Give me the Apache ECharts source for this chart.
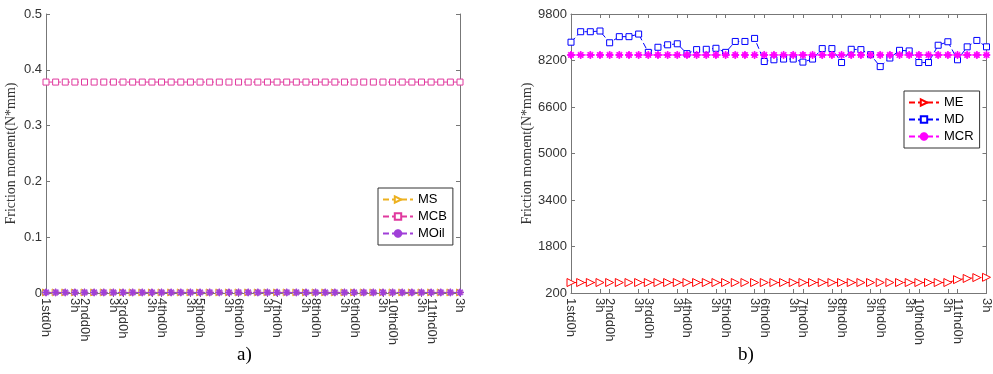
<!DOCTYPE html>
<html>
<head>
<meta charset="utf-8">
<script src="https://cdn.jsdelivr.net/npm/echarts@6/dist/echarts.min.js"></script>
<style>
  html, body { margin: 0; padding: 0; background: #fff; }
  #chart { width: 993px; height: 374px; }
</style>
</head>
<body>
<div id="chart"></div>
<script>
// x categories: 11 days x 4 hours
var days = ['1st', '2nd', '3rd', '4th', '5th', '6th', '7th', '8th', '9th', '10th', '11th'];
var hours = ['0h', '1h', '2h', '3h'];
var categories = [];
days.forEach(function (d) {
  hours.forEach(function (h) { categories.push(d + 'd' + h); });
});

// chart a)
var MS   = [0.001,0.001,0.001,0.001, 0.001,0.001,0.001,0.001, 0.001,0.001,0.001,0.001, 0.001,0.001,0.001,0.001,
            0.001,0.001,0.001,0.001, 0.001,0.001,0.001,0.001, 0.001,0.001,0.001,0.001, 0.001,0.001,0.001,0.001,
            0.001,0.001,0.001,0.001, 0.001,0.001,0.001,0.001, 0.001,0.001,0.001,0.001];
var MCB  = [0.378,0.378,0.378,0.378, 0.378,0.378,0.378,0.378, 0.378,0.378,0.378,0.378, 0.378,0.378,0.378,0.378,
            0.378,0.378,0.378,0.378, 0.378,0.378,0.378,0.378, 0.378,0.378,0.378,0.378, 0.378,0.378,0.378,0.378,
            0.378,0.378,0.378,0.378, 0.378,0.378,0.378,0.378, 0.378,0.378,0.378,0.378];
var MOil = [0.001,0.001,0.001,0.001, 0.001,0.001,0.001,0.001, 0.001,0.001,0.001,0.001, 0.001,0.001,0.001,0.001,
            0.001,0.001,0.001,0.001, 0.001,0.001,0.001,0.001, 0.001,0.001,0.001,0.001, 0.001,0.001,0.001,0.001,
            0.001,0.001,0.001,0.001, 0.001,0.001,0.001,0.001, 0.001,0.001,0.001,0.001];

// chart b)
var ME  = [560,560,560,560, 560,560,560,560, 560,560,560,560, 560,560,560,560,
           560,560,560,560, 560,560,560,560, 560,560,560,560, 560,560,560,560,
           560,560,560,560, 560,560,560,560, 660,700,730,740];
var MD  = [8830,9190,9190,9215, 8810,9020,9020,9110, 8480,8655,8740,8775, 8435,8575,8585,8620,
           8480,8855,8855,8960, 8165,8225,8250,8250, 8145,8250,8610,8610, 8130,8585,8575,8400,
           7990,8285,8550,8530, 8130,8130,8725,8845, 8225,8670,8890,8670];
var MCR = [8390,8390,8390,8390, 8390,8390,8390,8390, 8390,8390,8390,8390, 8390,8390,8390,8390,
           8390,8390,8390,8390, 8390,8390,8390,8390, 8390,8390,8390,8390, 8390,8390,8390,8390,
           8390,8390,8390,8390, 8390,8390,8390,8390, 8390,8390,8390,8390];

var asterisk = 'path://M-5,-0.7L5,-0.7L5,0.7L-5,0.7Z M-0.7,-5L0.7,-5L0.7,5L-0.7,5Z ' +
  'M-4.03,-3.04L-3.04,-4.03L4.03,3.04L3.04,4.03Z M3.04,-4.03L4.03,-3.04L-3.04,4.03L-4.03,3.04Z';

var axisColor = '#777';
var labelColor = '#333';
var sans = 'Liberation Sans, Arial, sans-serif';
var serif = 'Liberation Serif, Times New Roman, serif';

function tickShown(i) {
  return (i % 4 === 3) || (i % 4 === 0 && i > 0);
}

function xAxisBottom(grid) {
  return {
    type: 'category', gridIndex: grid, data: categories, boundaryGap: false,
    axisLine: { lineStyle: { color: axisColor } },
    axisTick: { inside: true, length: 4, interval: function (i) { return tickShown(i); }, lineStyle: { color: axisColor } },
    axisLabel: {
      interval: 0, rotate: -90, color: labelColor, fontFamily: sans, fontSize: 13, margin: 5,
      formatter: function (v) {
        if (/d0h$/.test(v)) return v;
        if (/d3h$/.test(v)) return '3h';
        return '';
      }
    },
    splitLine: { show: false }
  };
}
function xAxisTop(grid) {
  return {
    type: 'category', gridIndex: grid, data: categories, boundaryGap: false, position: 'top',
    axisLine: { lineStyle: { color: axisColor } },
    axisTick: { inside: true, length: 4, interval: function (i) { return tickShown(i); }, lineStyle: { color: axisColor } },
    axisLabel: { show: false }, splitLine: { show: false }
  };
}
function yAxisLeft(grid, min, max, interval, gap) {
  return {
    type: 'value', gridIndex: grid, min: min, max: max, interval: interval,
    name: 'Friction moment(N*mm)', nameLocation: 'middle', nameGap: gap,
    nameTextStyle: { fontFamily: serif, fontSize: 14, color: labelColor },
    axisLine: { show: true, lineStyle: { color: axisColor } },
    axisTick: { show: true, inside: true, length: 4, lineStyle: { color: axisColor } },
    axisLabel: { color: labelColor, fontFamily: sans, fontSize: 13, margin: 4,
      formatter: function (v) { return String(v); } },
    splitLine: { show: false }
  };
}
function yAxisRight(grid, min, max, interval) {
  return {
    type: 'value', gridIndex: grid, min: min, max: max, interval: interval, position: 'right',
    axisLine: { show: true, lineStyle: { color: axisColor } },
    axisTick: { show: true, inside: true, length: 4, lineStyle: { color: axisColor } },
    axisLabel: { show: false }, splitLine: { show: false }
  };
}
function lineSeries(name, data, xi, yi, color, symbol, size, rotate) {
  return {
    name: name, type: 'line', data: data, xAxisIndex: xi, yAxisIndex: yi,
    symbol: symbol, symbolSize: size, symbolRotate: rotate || 0, showAllSymbol: true,
    color: color,
    lineStyle: { color: color, width: 1, type: [6, 3] },
    itemStyle: { color: symbol === asterisk ? color : '#fff', borderColor: color, borderWidth: 1 },
    emphasis: { disabled: true },
    animation: false
  };
}
function legendBox(names, left, top) {
  return {
    data: names,
    orient: 'vertical', left: left, top: top,
    itemWidth: 30, itemHeight: 8, itemGap: 4, padding: [5, 6, 5, 4],
    borderColor: '#333', borderWidth: 1, backgroundColor: '#fff',
    textStyle: { fontFamily: sans, fontSize: 13, color: '#000' }
  };
}

var chart = echarts.init(document.getElementById('chart'));
chart.setOption({
  animation: false,
  title: [
    { text: 'a)', left: 232, top: 341, textStyle: { fontFamily: serif, fontSize: 19, fontWeight: 'normal', color: '#000' } },
    { text: 'b)', left: 733, top: 341, textStyle: { fontFamily: serif, fontSize: 19, fontWeight: 'normal', color: '#000' } }
  ],
  grid: [
    { left: 46, right: 533, top: 14, bottom: 81 },
    { left: 571, right: 6, top: 14, bottom: 81 }
  ],
  xAxis: [xAxisBottom(0), xAxisBottom(1), xAxisTop(0), xAxisTop(1)],
  yAxis: [yAxisLeft(0, 0, 0.5, 0.1, 28), yAxisLeft(1, 200, 9800, 1600, 37), yAxisRight(0, 0, 0.5, 0.1), yAxisRight(1, 200, 9800, 1600)],
  legend: [
    legendBox(['MS', 'MCB', 'MOil'], 378, 188),
    legendBox(['ME', 'MD', 'MCR'], 904, 91)
  ],
  series: [
    lineSeries('MS', MS, 0, 0, '#EDB120', 'triangle', 7, -90),
    lineSeries('MCB', MCB, 0, 0, '#E0399E', 'rect', 6),
    lineSeries('MOil', MOil, 0, 0, '#A03FD8', asterisk, 7),
    lineSeries('ME', ME, 1, 1, '#FF0000', 'triangle', 8, -90),
    lineSeries('MD', MD, 1, 1, '#0000FF', 'rect', 6),
    lineSeries('MCR', MCR, 1, 1, '#FF00FF', asterisk, 7)
  ]
});
</script>
</body>
</html>
